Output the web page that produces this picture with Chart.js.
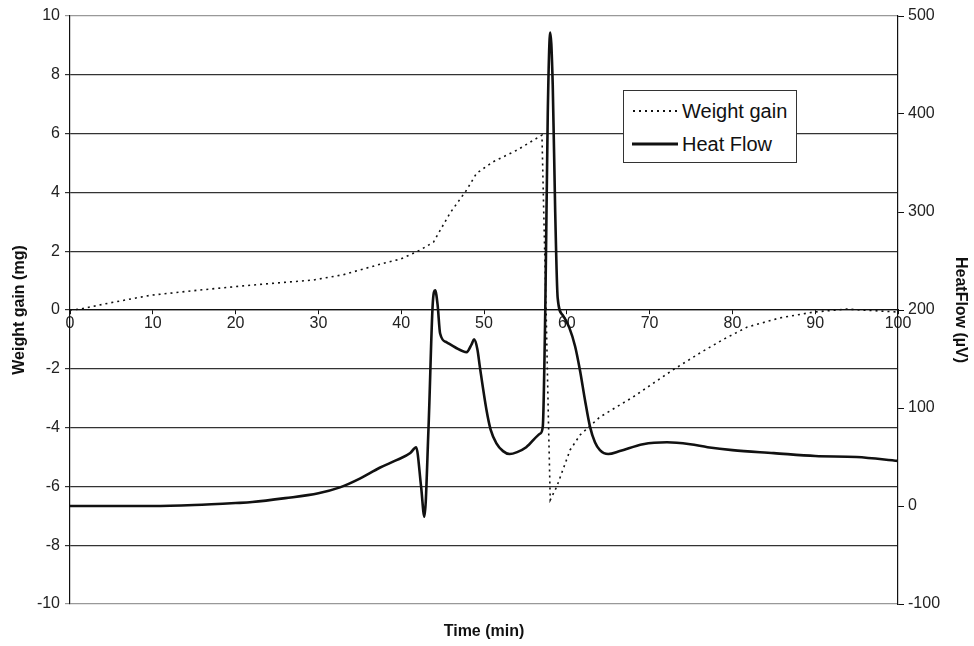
<!DOCTYPE html>
<html>
<head>
<meta charset="utf-8">
<script src="https://cdn.jsdelivr.net/npm/chart.js@4.4.1/dist/chart.umd.min.js"></script>
<style>
  body { margin: 0; background: #fff; font-family: "Liberation Sans", Arial, sans-serif; }
  .wrap { position: relative; width: 974px; height: 646px; }
  .legend {
    position: absolute; left: 623px; top: 90px; width: 172px; height: 71px;
    border: 1.5px solid #333; background: #fff; font-size: 20px; color: #111;
  }
  .legend .row { position: absolute; left: 8px; height: 24px; display: flex; align-items: center; }
  .legend svg { margin-right: 4px; }
</style>
</head>
<body>
<div class="wrap">
  <canvas id="myChart" width="974" height="646"></canvas>
  <div class="legend">
    <div class="row" style="top:8px">
      <svg width="46" height="6"><line x1="1" y1="3" x2="46" y2="3" stroke="#111" stroke-width="2" stroke-dasharray="2 4"/></svg>Weight gain
    </div>
    <div class="row" style="top:41px">
      <svg width="46" height="6"><line x1="0" y1="3" x2="46" y2="3" stroke="#111" stroke-width="3"/></svg>Heat Flow
    </div>
  </div>
</div>
<script>
// weight gain (mg), left axis
const weightTime = [0, 1.2, 4.8, 9.7, 15, 20.9, 25, 29.4, 33, 35, 38, 39.9, 42.3, 43.9, 45.9, 47.9, 49.1, 51.1, 54, 57,
  57.2, 57.5, 57.8, 58.0, 58.8, 60.4, 61.6, 64, 68, 72.8, 76.1, 78.9, 81.8, 85.7, 89.8, 93.8, 100];
const weightGain = [0, 0.03, 0.24, 0.5, 0.66, 0.82, 0.92, 1.02, 1.2, 1.36, 1.6, 1.73, 2.04, 2.31, 3.3, 4.08, 4.65, 5.04, 5.44, 5.95,
  3.5, 0, -4, -6.46, -6.0, -4.76, -4.25, -3.64, -2.96, -2.04, -1.46, -1.0, -0.58, -0.27, -0.07, 0.03, -0.07];

// heat flow (µV), right axis
const heatTime = [0, 5, 10, 15, 20, 22, 26, 30, 32.6, 35, 37.4, 39.5, 41.1, 41.8, 42.4, 42.8, 43.3, 43.8, 44.1, 44.4, 44.7,
  45.5, 46.5, 47.9, 48.5, 48.8, 49.2, 49.5, 50.3, 50.8, 51.5, 52.3, 53.1, 54, 55.1, 56.8, 57.1, 57.4, 57.7, 58.0, 58.3,
  58.6, 58.9, 59.5, 60.3, 61.0, 61.6, 62.2, 62.8, 63.4, 64, 65, 66.4, 69.2, 72.1, 74.9, 77, 80, 85, 90, 95, 100];
const heatFlow = [0, 0, 0, 1, 3, 4, 8, 13, 19, 28, 39, 47, 54, 60, 20, -11, 80, 205, 220, 205, 176,
  167, 162, 157, 165, 170, 160, 142, 98, 78, 64, 56, 53, 55, 60, 74, 81, 200, 400, 483, 430,
  300, 212, 195, 182, 163, 138, 108, 81, 65, 57, 53, 56, 63, 65, 63, 60, 57, 54, 51, 50, 46];

const leftTicks = [-10, -8, -6, -4, -2, 0, 2, 4, 6, 8, 10];
const rightTicks = [-100, 0, 100, 200, 300, 400, 500];
const timeTicks = [0, 10, 20, 30, 40, 50, 60, 70, 80, 90, 100];

const tickFont = { family: '"Liberation Sans", Arial, sans-serif', size: 16 };
const titleFont = { family: '"Liberation Sans", Arial, sans-serif', size: 16, weight: 'bold' };

const ctx = document.getElementById('myChart');
const myChart = new Chart(ctx, {
  type: 'line',
  data: {
    datasets: [
      {
        label: 'Weight gain',
        data: weightTime.map((t, i) => ({ x: t, y: weightGain[i] })),
        yAxisID: 'y',
        borderColor: '#111',
        borderWidth: 1.6,
        borderDash: [2, 4],
        pointRadius: 0,
        tension: 0,
      },
      {
        label: 'Heat Flow',
        data: heatTime.map((t, i) => ({ x: t, y: heatFlow[i] })),
        yAxisID: 'y2',
        borderColor: '#111',
        borderWidth: 2.6,
        pointRadius: 0,
        cubicInterpolationMode: 'monotone',
      },
    ],
  },
  options: {
    responsive: false,
    animation: false,
    layout: { padding: { top: 16, left: 0, right: 0, bottom: 0 } },
    plugins: { legend: { display: false }, tooltip: { enabled: false } },
    scales: {
      x: {
        type: 'linear',
        position: { y: 0 },
        min: 0,
        max: 100,
        afterBuildTicks: (s) => { s.ticks = timeTicks.map(v => ({ value: v })); },
        ticks: { autoSkip: false, maxRotation: 0, color: '#222', font: tickFont, padding: 0 },
        grid: { drawOnChartArea: false, drawTicks: true, tickLength: 4, color: '#111' },
        border: { display: true, color: '#111', width: 1.2 },
      },
      x2: {
        type: 'linear',
        position: 'bottom',
        min: 0,
        max: 100,
        ticks: { display: false },
        grid: { display: false },
        border: { display: false },
        title: { display: true, text: 'Time (min)', color: '#111', font: titleFont, padding: { top: 0, bottom: 5 } },
        afterFit: (s) => { s.height = 42; },
      },
      y: {
        position: 'left',
        min: -10,
        max: 10,
        afterBuildTicks: (s) => { s.ticks = leftTicks.map(v => ({ value: v })); },
        ticks: { color: '#222', font: tickFont, padding: 5 },
        grid: {
          color: (c) => (c.tick && Math.abs(c.tick.value) === 10 ? '#999' : '#333'),
          lineWidth: 1.2,
          tickLength: 5,
        },
        border: { display: true, color: '#111', width: 1.2 },
        title: { display: true, text: 'Weight gain (mg)', color: '#111', font: titleFont, padding: { top: 10, bottom: 0 } },
        afterFit: (s) => { s.width = 70; },
      },
      y2: {
        position: 'right',
        min: -100,
        max: 500,
        afterBuildTicks: (s) => { s.ticks = rightTicks.map(v => ({ value: v })); },
        ticks: { color: '#222', font: tickFont, padding: 4 },
        grid: { drawOnChartArea: false, tickLength: 6, color: '#111' },
        border: { display: true, color: '#111', width: 1.2 },
        title: { display: true, text: 'HeatFlow (µV)', color: '#111', font: titleFont, padding: { top: 4, bottom: 0 } },
        afterFit: (s) => { s.width = 76; },
      },
    },
  },
});
</script>
</body>
</html>
